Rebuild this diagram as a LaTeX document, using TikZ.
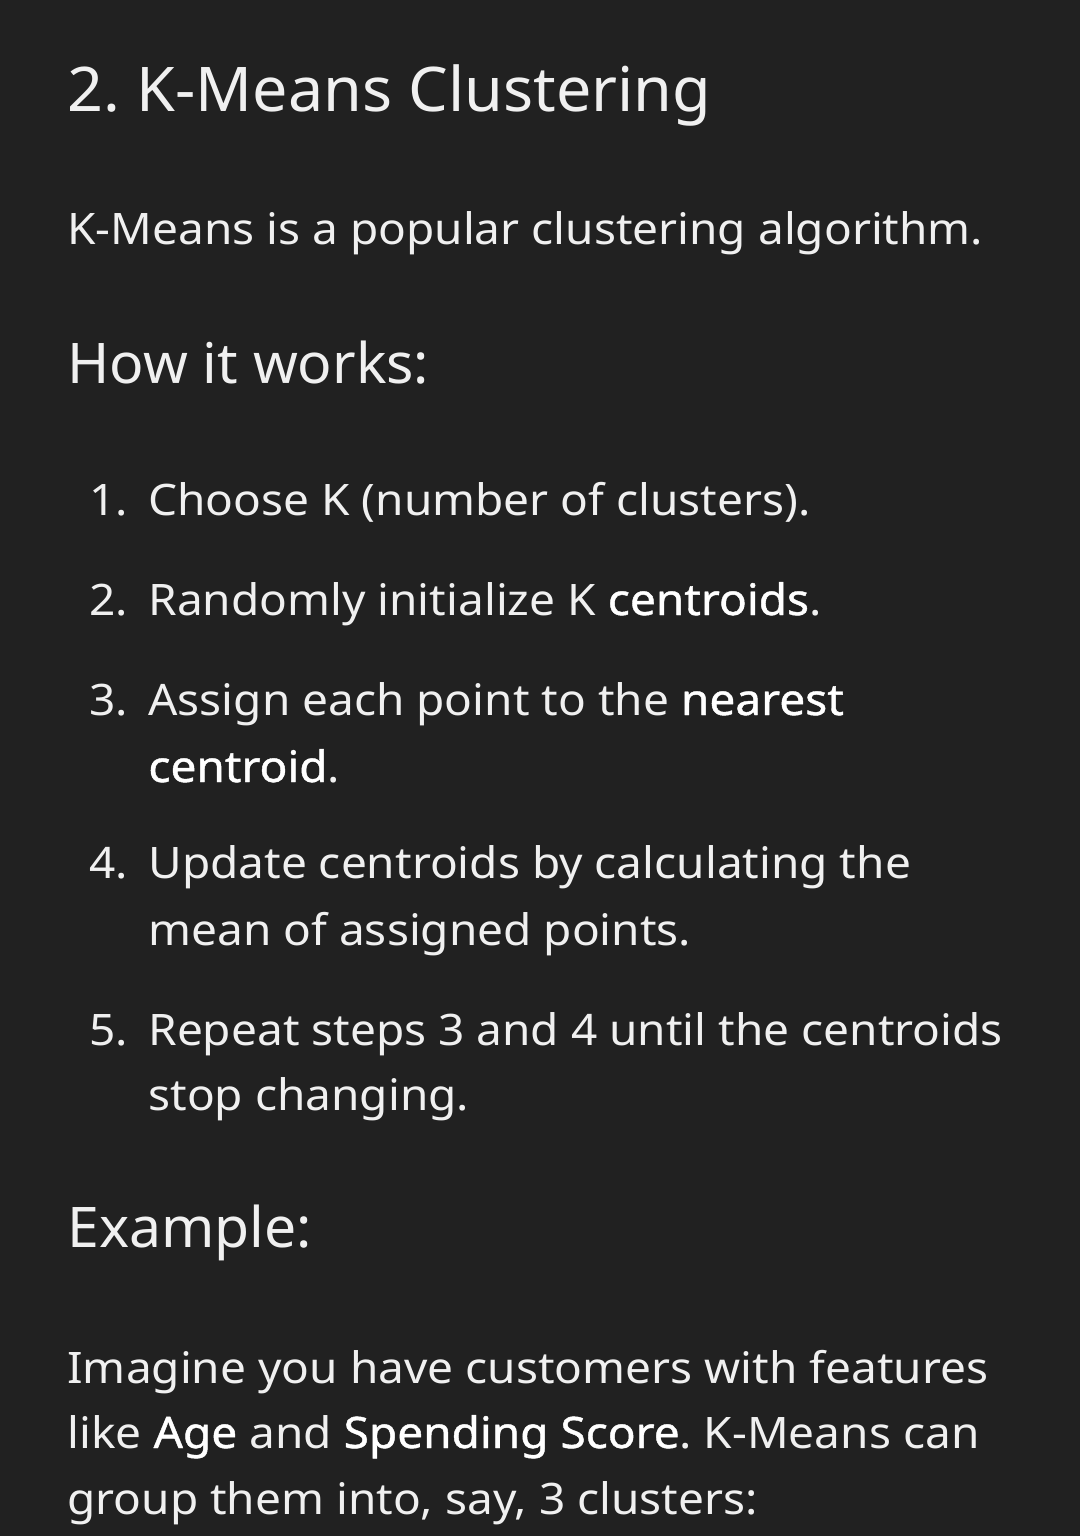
\documentclass[tikz,border=0pt]{standalone}
\usepackage{fontspec}
\usepackage{xcolor}
\setmainfont[FakeStretch=1.06]{Noto Sans}
\newfontfamily\boldish[FakeStretch=1.06,FakeBold=1]{Noto Sans}
\newfontfamily\headfont[FakeStretch=1.02]{Noto Sans}
\definecolor{page}{HTML}{212121}
\definecolor{ink}{HTML}{F0F0F0}
\definecolor{inkhi}{HTML}{FFFFFF}
\newcommand{\keyword}[1]{{\boldish\color{inkhi}#1}}
\frenchspacing

\begin{document}
\begin{tikzpicture}[x=0.5pt,y=-0.5pt]
\tikzstyle{txt} = [anchor=base west, inner sep=0pt, text=ink, font=\fontsize{21.7}{26}\selectfont];
\tikzstyle{title} = [txt, font=\headfont\fontsize{30.8}{36}\selectfont];
\tikzstyle{heading} = [txt, font=\headfont\fontsize{28}{33}\selectfont];
\tikzstyle{num} = [txt];

\fill [page] (0,0) rectangle (1080,1536);

\node [title] (ttl) at (67,112) {2. K-Means Clustering};
\node [txt] (intro) at (67,244) {K-Means is a popular clustering algorithm.};
\node [heading] (how) at (67,383) {How it works:};

\node [num] (n1) at (89,515) {1.};
\node [txt] (s1) at (148,515) {Choose K (number of clusters).};
\node [num] (n2) at (89,615) {2.};
\node [txt] (s2) at (148,615) {Randomly initialize K \keyword{centroids}.};
\node [num] (n3) at (89,715) {3.};
\node [txt] (s3a) at (148,715) {Assign each point to the \keyword{nearest}};
\node [txt] (s3b) at (148,782) {\keyword{centroid}.};
\node [num] (n4) at (89,878) {4.};
\node [txt] (s4a) at (148,878) {Update centroids by calculating the};
\node [txt] (s4b) at (148,945) {mean of assigned points.};
\node [num] (n5) at (89,1045) {5.};
\node [txt] (s5a) at (148,1045) {Repeat steps 3 and 4 until the centroids};
\node [txt] (s5b) at (148,1110) {stop changing.};

\node [heading] (ex) at (67,1247) {Example:};
\node [txt] (p1) at (67,1383) {Imagine you have customers with features};
\node [txt] (p2) at (67,1448) {like \keyword{Age} and \keyword{Spending Score}. K-Means can};
\node [txt] (p3) at (67,1514) {group them into, say, 3 clusters:};
\end{tikzpicture}
\end{document}
